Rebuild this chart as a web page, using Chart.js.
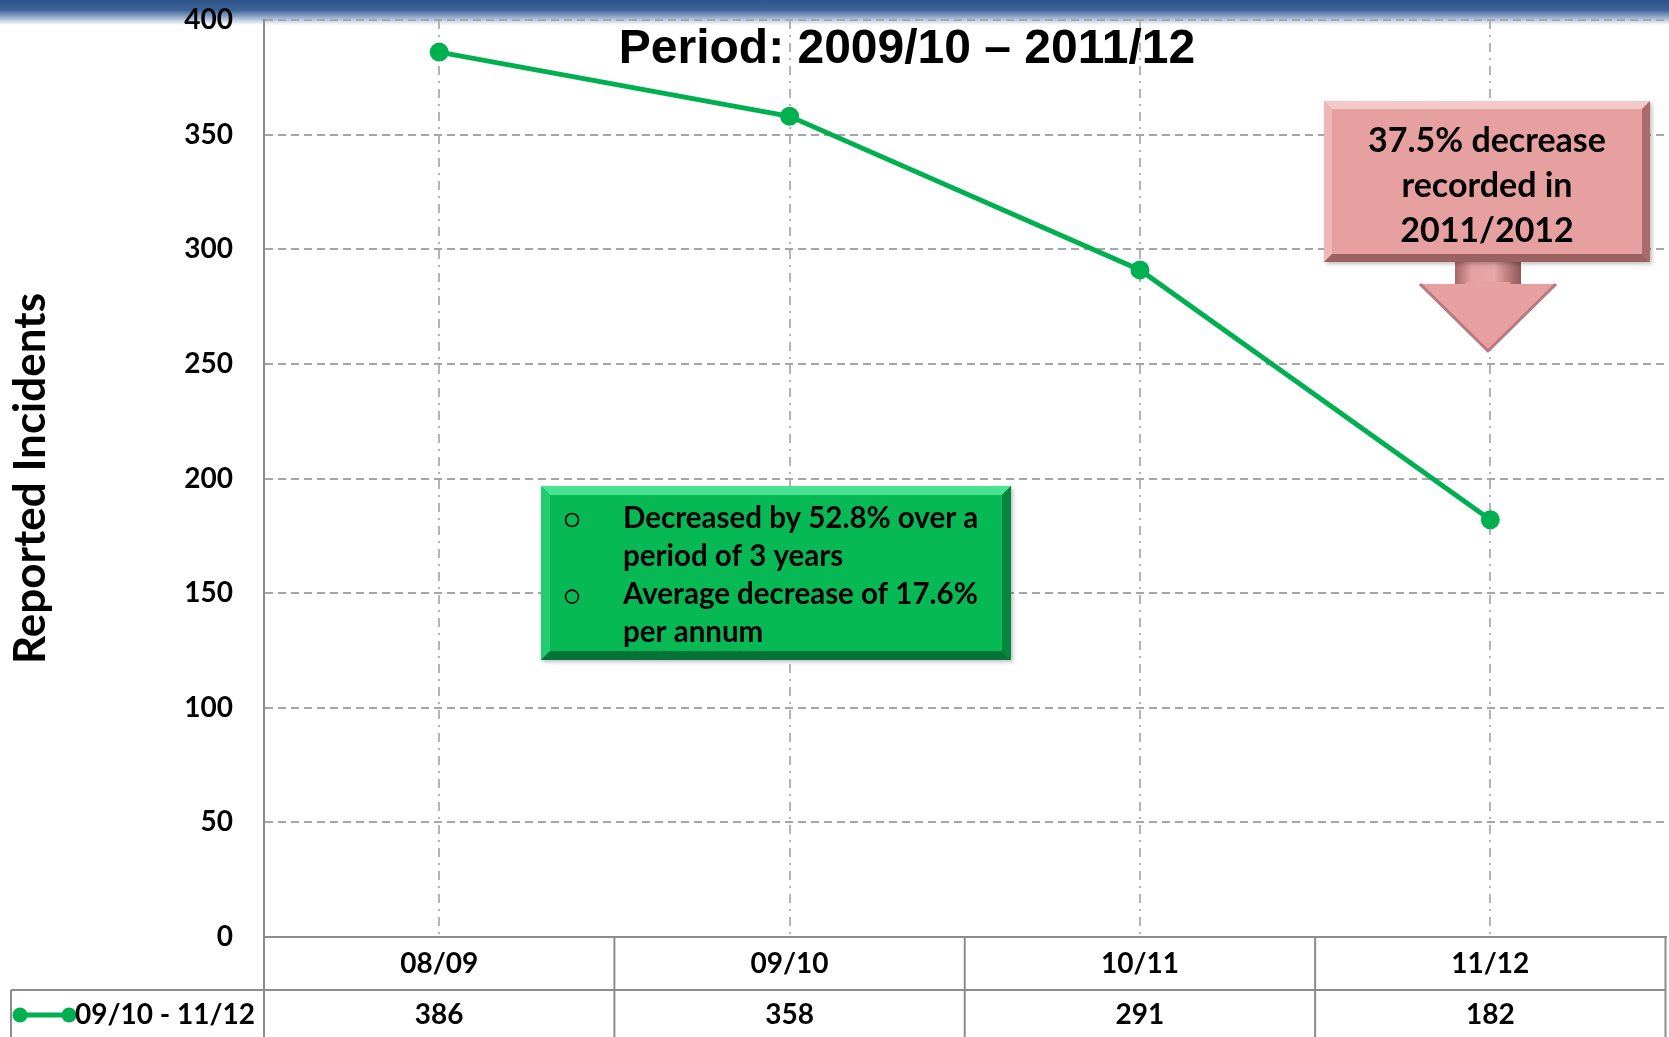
<!DOCTYPE html>
<html>
<head>
<meta charset="utf-8">
<script src="https://cdn.jsdelivr.net/npm/chart.js@4.4.1/dist/chart.umd.min.js"></script>
<style>
  html, body { margin: 0; padding: 0; background: #fff; overflow: hidden; }
  #wrap { position: relative; width: 1669px; height: 1037px; overflow: hidden; }
  #banner {
    position: absolute; left: 0; top: 0; width: 1669px; height: 26px;
    background: linear-gradient(to bottom, #2f5488 0px, #3c6299 10px, #93aacb 17px, #ffffff 25px);
  }
  #incidents { position: absolute; left: 0; top: 0; }
</style>
</head>
<body>
<div id="wrap">
  <div id="banner"></div>
  <canvas id="incidents" width="1675" height="1037"></canvas>
</div>
<script>
const periods = ['08/09', '09/10', '10/11', '11/12'];
const incidents = [386, 358, 291, 182];
const seriesName = '09/10 - 11/12';
const yTicks = { min: 0, max: 400, step: 50 };

const titleText = 'Period: 2009/10 \u2013 2011/12';
const calloutLines = ['37.5% decrease', 'recorded in', '2011/2012'];
const noteLines = [
  { bullet: true, text: 'Decreased by 52.8% over a' },
  { bullet: false, text: 'period of 3 years' },
  { bullet: true, text: 'Average decrease of 17.6%' },
  { bullet: false, text: 'per annum' }
];

const GREEN = '#00b050';
const TABLE = '#8c8c8c';
const FONT = 'Lato, "Open Sans", sans-serif';

// bevelled box, roughly like the office shape effect
function bevelBox(ctx, x, y, w, h, b, c) {
  ctx.save();
  ctx.shadowColor = 'rgba(0,0,0,0.25)';
  ctx.shadowBlur = 4;
  ctx.shadowOffsetX = 2;
  ctx.shadowOffsetY = 2;
  ctx.fillStyle = c.base;
  ctx.fillRect(x, y, w, h);
  ctx.restore();
  const poly = (pts, col) => {
    ctx.beginPath();
    ctx.moveTo(pts[0][0], pts[0][1]);
    for (let i = 1; i < pts.length; i++) ctx.lineTo(pts[i][0], pts[i][1]);
    ctx.closePath();
    ctx.fillStyle = col;
    ctx.fill();
  };
  poly([[x, y], [x + w, y], [x + w - b, y + b], [x + b, y + b]], c.top);
  poly([[x, y], [x + b, y + b], [x + b, y + h - b], [x, y + h]], c.left);
  poly([[x + w, y], [x + w, y + h], [x + w - b, y + h - b], [x + w - b, y + b]], c.right);
  poly([[x, y + h], [x + b, y + h - b], [x + w - b, y + h - b], [x + w, y + h]], c.bottom);
}

const tablePlugin = {
  id: 'dataTable',
  afterDraw(chart) {
    const ctx = chart.ctx;
    const xs = chart.scales.x;
    const area = chart.chartArea;
    const H = chart.height;
    const half = (xs.getPixelForValue(1) - xs.getPixelForValue(0)) / 2;
    const rowY = 990;
    const valY = 1015;

    ctx.save();
    ctx.strokeStyle = TABLE;
    ctx.lineWidth = 2;
    ctx.beginPath();
    ctx.moveTo(11, rowY);
    ctx.lineTo(area.right, rowY);
    ctx.moveTo(11, rowY);
    ctx.lineTo(11, H);
    ctx.moveTo(area.left, area.bottom);
    ctx.lineTo(area.left, H);
    periods.forEach((p, i) => {
      const bx = xs.getPixelForValue(i) + half;
      ctx.moveTo(bx, area.bottom);
      ctx.lineTo(bx, H);
    });
    ctx.stroke();

    ctx.fillStyle = '#000';
    ctx.font = 'bold 28px ' + FONT;
    ctx.textAlign = 'center';
    ctx.textBaseline = 'middle';
    incidents.forEach((v, i) => {
      ctx.fillText(String(v), xs.getPixelForValue(i), valY);
    });

    // legend key in the table
    ctx.strokeStyle = GREEN;
    ctx.lineWidth = 5;
    ctx.beginPath();
    ctx.moveTo(20, valY);
    ctx.lineTo(69, valY);
    ctx.stroke();
    ctx.fillStyle = GREEN;
    [20, 69].forEach(cx => {
      ctx.beginPath();
      ctx.arc(cx, valY, 7.5, 0, Math.PI * 2);
      ctx.fill();
    });
    ctx.fillStyle = '#000';
    ctx.textAlign = 'left';
    ctx.fillText(seriesName, 75, valY);
    ctx.restore();
  }
};

const notesPlugin = {
  id: 'notes',
  afterDraw(chart) {
    const ctx = chart.ctx;
    ctx.save();

    // title
    ctx.fillStyle = '#000';
    ctx.font = 'bold 48px "Liberation Sans", Arial, sans-serif';
    ctx.textAlign = 'center';
    ctx.textBaseline = 'middle';
    ctx.fillText(titleText, 907, 50);

    // green note box
    bevelBox(ctx, 541, 486, 470, 174, 9, {
      base: '#07b955', top: '#49e394', left: '#23cc6f', right: '#05853d', bottom: '#047536'
    });
    ctx.fillStyle = '#000';
    ctx.strokeStyle = '#000';
    ctx.lineWidth = 1.6;
    ctx.font = 'bold 29.5px ' + FONT;
    ctx.textAlign = 'left';
    noteLines.forEach((ln, i) => {
      const y = 518 + i * 38.3;
      if (ln.bullet) {
        ctx.beginPath();
        ctx.arc(572, y + 2, 6.5, 0, Math.PI * 2);
        ctx.stroke();
      }
      ctx.fillText(ln.text, 623, y);
    });

    // pink callout with down arrow
    const ax = 1488;
    const shaft = ctx.createLinearGradient(ax - 33, 0, ax + 33, 0);
    shaft.addColorStop(0, '#a86666');
    shaft.addColorStop(0.25, '#e3a09f');
    shaft.addColorStop(0.6, '#e8a6a5');
    shaft.addColorStop(1, '#8f5857');
    ctx.fillStyle = shaft;
    ctx.fillRect(ax - 33, 250, 66, 36);
    ctx.beginPath();
    ctx.moveTo(1420, 284);
    ctx.lineTo(1556, 284);
    ctx.lineTo(ax, 351);
    ctx.closePath();
    ctx.fillStyle = '#e6a09f';
    ctx.fill();
    ctx.strokeStyle = '#b87978';
    ctx.lineWidth = 3;
    ctx.beginPath();
    ctx.moveTo(1556, 284);
    ctx.lineTo(ax, 351);
    ctx.lineTo(1420, 284);
    ctx.stroke();
    ctx.fillStyle = '#e6a09f';
    ctx.fillRect(ax - 22, 282, 44, 12);

    bevelBox(ctx, 1324, 101, 326, 161, 8, {
      base: '#e6a09f', top: '#f4cac9', left: '#eeb7b6', right: '#a96a69', bottom: '#9c6261'
    });
    ctx.fillStyle = '#000';
    ctx.font = 'bold 34px ' + FONT;
    ctx.textAlign = 'center';
    calloutLines.forEach((t, i) => {
      ctx.fillText(t, 1487, 141 + i * 45);
    });
    ctx.restore();
  }
};

new Chart(document.getElementById('incidents'), {
  type: 'line',
  data: {
    labels: periods,
    datasets: [{
      label: seriesName,
      data: incidents,
      borderColor: GREEN,
      backgroundColor: GREEN,
      borderWidth: 5,
      pointRadius: 9.5,
      pointHoverRadius: 9.5,
      pointBorderWidth: 0,
      pointBackgroundColor: GREEN,
      tension: 0,
      clip: false
    }]
  },
  options: {
    responsive: false,
    animation: false,
    events: [],
    layout: { padding: { top: 20, right: 0, left: 0, bottom: 0 } },
    plugins: { legend: { display: false }, tooltip: { enabled: false } },
    scales: {
      x: {
        offset: true,
        grid: { color: '#b4b4b4', lineWidth: 2, drawTicks: false, offset: false },
        border: { display: true, color: TABLE, width: 2, dash: [9, 6, 2, 6] },
        ticks: { color: '#000', font: { family: FONT, size: 28, weight: 'bold' }, padding: 10 },
        afterFit(scale) {
          scale.height = 100;
          scale.paddingLeft = 0;
          scale.paddingRight = 0;
        }
      },
      y: {
        min: yTicks.min,
        max: yTicks.max,
        grid: { color: '#a6a6a6', lineWidth: 2, drawTicks: false },
        border: { display: true, color: TABLE, width: 2, dash: [8, 5] },
        ticks: {
          stepSize: yTicks.step,
          color: '#000',
          font: { family: FONT, size: 28, weight: 'bold' },
          padding: 31
        },
        title: {
          display: true,
          text: 'Reported Incidents',
          color: '#000',
          font: { family: FONT, size: 44, weight: 'bold' },
          padding: { top: 4, bottom: 0 }
        },
        afterFit(scale) {
          scale.width = 264;
          scale.paddingTop = 0;
          scale.paddingBottom = 0;
        }
      }
    }
  },
  plugins: [tablePlugin, notesPlugin]
});
</script>
</body>
</html>
